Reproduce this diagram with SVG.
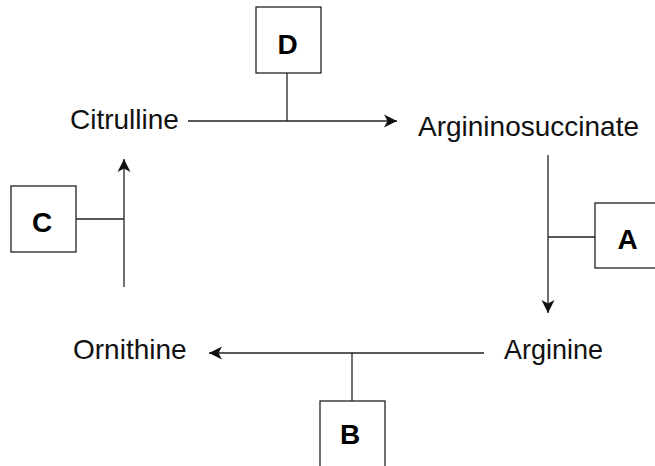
<svg xmlns="http://www.w3.org/2000/svg" width="655" height="466" viewBox="0 0 655 466">
<style>
.bg{fill:#fff}
.box{fill:#fff;stroke:#222;stroke-width:1.3}
.lbl{font-family:"Liberation Sans",Arial,sans-serif;font-size:28px;fill:#111}
.key{font-family:"Liberation Sans",Arial,sans-serif;font-size:28px;font-weight:bold;fill:#000;text-anchor:middle}
.ln{stroke:#222;stroke-width:1.3;fill:none}
.arr{stroke:#222;stroke-width:1.3;fill:none;marker-end:url(#ah)}
</style>
<defs>
<marker id="ah" markerUnits="userSpaceOnUse" markerWidth="16" markerHeight="16" viewBox="-14 -8 16 16" refX="0" refY="0" orient="auto">
<path d="M0,0 L-13,-6.5 L-9.5,0 L-13,6.5 Z" fill="#111"/>
</marker>
</defs>
<rect class="bg" x="0" y="0" width="655" height="466"/>
<g id="connectors">
<line class="arr" x1="188" y1="121" x2="397" y2="121"/>
<line class="ln" x1="287" y1="73" x2="287" y2="121"/>
<line class="arr" x1="548" y1="155" x2="548" y2="313"/>
<line class="ln" x1="548" y1="237" x2="595" y2="237"/>
<line class="arr" x1="484" y1="353" x2="209" y2="353"/>
<line class="ln" x1="352" y1="353" x2="352" y2="401"/>
<line class="arr" x1="124" y1="287" x2="124" y2="159"/>
<line class="ln" x1="76" y1="219" x2="124" y2="219"/>
</g>
<g id="citrulline"><text class="lbl" x="70" y="128.5">Citrulline</text></g>
<g id="argininosuccinate"><text class="lbl" x="418" y="136">Argininosuccinate</text></g>
<g id="arginine"><text class="lbl" x="504" y="358.5" style="font-size:27px">Arginine</text></g>
<g id="ornithine"><text class="lbl" x="73" y="358.5">Ornithine</text></g>
<g id="D"><rect class="box" x="256" y="7" width="65" height="66"/><text class="key" x="287.5" y="53.5">D</text></g>
<g id="C"><rect class="box" x="11" y="186" width="65" height="66"/><text class="key" x="42" y="232">C</text></g>
<g id="A"><rect class="box" x="595" y="203" width="65" height="65"/><text class="key" x="627.5" y="249">A</text></g>
<g id="B"><rect class="box" x="320" y="401" width="65" height="70"/><text class="key" x="350" y="443.5">B</text></g>
</svg>
